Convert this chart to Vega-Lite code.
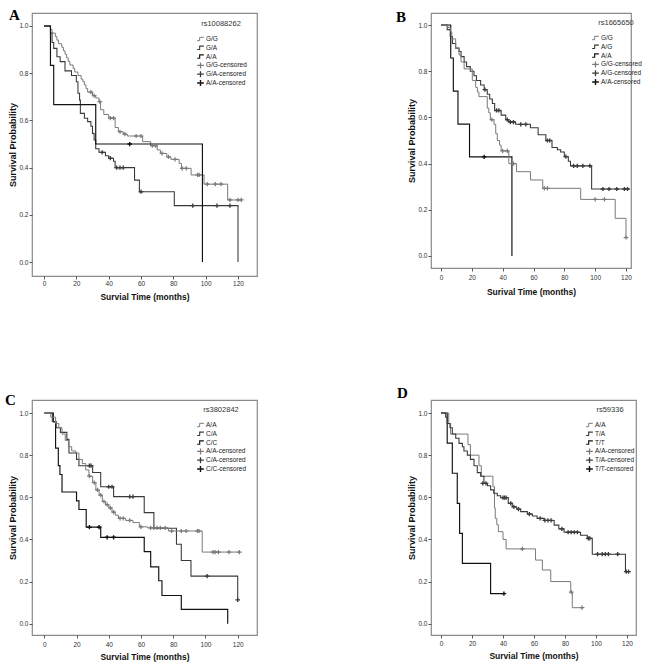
{
"$schema": "https://vega.github.io/schema/vega-lite/v6.json",
"background": "white",
"padding": {"left": 4, "top": 7, "right": 5, "bottom": 5},
"columns": 2,
"spacing": {"row": 124, "column": 174},
"bounds": "flush",
"resolve": {"scale": {"color": "independent", "strokeWidth": "independent", "shape": "independent"}, "legend": {"color": "independent", "strokeWidth": "independent", "shape": "independent"}},
"datasets": {
"km": [
{"p":"A","k":"G/G","t":0,"s":1},{"p":"A","k":"G/G","t":4,"s":0.985},{"p":"A","k":"G/G","t":5,"s":0.97},{"p":"A","k":"G/G","t":7,"s":0.955},{"p":"A","k":"G/G","t":8,"s":0.94},{"p":"A","k":"G/G","t":9,"s":0.925},{"p":"A","k":"G/G","t":11,"s":0.91},{"p":"A","k":"G/G","t":12,"s":0.895},{"p":"A","k":"G/G","t":13,"s":0.88},{"p":"A","k":"G/G","t":14,"s":0.865},{"p":"A","k":"G/G","t":15,"s":0.85},{"p":"A","k":"G/G","t":16,"s":0.835},{"p":"A","k":"G/G","t":18,"s":0.82},{"p":"A","k":"G/G","t":19,"s":0.805},{"p":"A","k":"G/G","t":21,"s":0.79},{"p":"A","k":"G/G","t":23,"s":0.775},{"p":"A","k":"G/G","t":24,"s":0.765},{"p":"A","k":"G/G","t":25,"s":0.75},{"p":"A","k":"G/G","t":26,"s":0.735},{"p":"A","k":"G/G","t":27,"s":0.72},{"p":"A","k":"G/G","t":30,"s":0.705},{"p":"A","k":"G/G","t":32,"s":0.695},{"p":"A","k":"G/G","t":34,"s":0.68},{"p":"A","k":"G/G","t":35,"s":0.645},{"p":"A","k":"G/G","t":37,"s":0.625},{"p":"A","k":"G/G","t":40,"s":0.61},{"p":"A","k":"G/G","t":44,"s":0.57},{"p":"A","k":"G/G","t":46,"s":0.552},{"p":"A","k":"G/G","t":49,"s":0.542},{"p":"A","k":"G/G","t":51.5,"s":0.534},{"p":"A","k":"G/G","t":61,"s":0.51},{"p":"A","k":"G/G","t":66,"s":0.493},{"p":"A","k":"G/G","t":70,"s":0.475},{"p":"A","k":"G/G","t":72,"s":0.46},{"p":"A","k":"G/G","t":76,"s":0.446},{"p":"A","k":"G/G","t":78.5,"s":0.435},{"p":"A","k":"G/G","t":83.6,"s":0.418},{"p":"A","k":"G/G","t":85,"s":0.397},{"p":"A","k":"G/G","t":91,"s":0.369},{"p":"A","k":"G/G","t":99,"s":0.33},{"p":"A","k":"G/G","t":113.6,"s":0.263},{"p":"A","k":"G/G","t":122,"s":0.263},
{"p":"A","k":"G/A","t":0,"s":1},{"p":"A","k":"G/A","t":4,"s":0.97},{"p":"A","k":"G/A","t":5,"s":0.93},{"p":"A","k":"G/A","t":6,"s":0.905},{"p":"A","k":"G/A","t":8,"s":0.87},{"p":"A","k":"G/A","t":10,"s":0.849},{"p":"A","k":"G/A","t":13,"s":0.81},{"p":"A","k":"G/A","t":17,"s":0.79},{"p":"A","k":"G/A","t":20,"s":0.764},{"p":"A","k":"G/A","t":21,"s":0.715},{"p":"A","k":"G/A","t":22,"s":0.686},{"p":"A","k":"G/A","t":22.5,"s":0.63},{"p":"A","k":"G/A","t":25,"s":0.609},{"p":"A","k":"G/A","t":27,"s":0.595},{"p":"A","k":"G/A","t":29,"s":0.575},{"p":"A","k":"G/A","t":30,"s":0.545},{"p":"A","k":"G/A","t":31,"s":0.517},{"p":"A","k":"G/A","t":32,"s":0.48},{"p":"A","k":"G/A","t":34,"s":0.465},{"p":"A","k":"G/A","t":38,"s":0.45},{"p":"A","k":"G/A","t":40,"s":0.44},{"p":"A","k":"G/A","t":43,"s":0.427},{"p":"A","k":"G/A","t":44,"s":0.4},{"p":"A","k":"G/A","t":56,"s":0.347},{"p":"A","k":"G/A","t":59,"s":0.298},{"p":"A","k":"G/A","t":80.6,"s":0.239},{"p":"A","k":"G/A","t":120,"s":0},
{"p":"A","k":"A/A","t":0,"s":1},{"p":"A","k":"A/A","t":4,"s":0.833},{"p":"A","k":"A/A","t":6,"s":0.667},{"p":"A","k":"A/A","t":32,"s":0.5},{"p":"A","k":"A/A","t":98,"s":0},
{"p":"B","k":"A/A","t":0,"s":1},{"p":"B","k":"A/A","t":6.3,"s":0.857},{"p":"B","k":"A/A","t":8,"s":0.714},{"p":"B","k":"A/A","t":11,"s":0.571},{"p":"B","k":"A/A","t":18.5,"s":0.429},{"p":"B","k":"A/A","t":46,"s":0},
{"p":"B","k":"A/G","t":0,"s":1},{"p":"B","k":"A/G","t":4,"s":0.98},{"p":"B","k":"A/G","t":6,"s":0.95},{"p":"B","k":"A/G","t":7.4,"s":0.92},{"p":"B","k":"A/G","t":9.5,"s":0.9},{"p":"B","k":"A/G","t":11.7,"s":0.885},{"p":"B","k":"A/G","t":13,"s":0.863},{"p":"B","k":"A/G","t":15,"s":0.84},{"p":"B","k":"A/G","t":16.6,"s":0.82},{"p":"B","k":"A/G","t":19,"s":0.8},{"p":"B","k":"A/G","t":21.4,"s":0.78},{"p":"B","k":"A/G","t":23,"s":0.76},{"p":"B","k":"A/G","t":25.7,"s":0.74},{"p":"B","k":"A/G","t":28,"s":0.72},{"p":"B","k":"A/G","t":30,"s":0.7},{"p":"B","k":"A/G","t":31.6,"s":0.68},{"p":"B","k":"A/G","t":33.3,"s":0.66},{"p":"B","k":"A/G","t":34.8,"s":0.63},{"p":"B","k":"A/G","t":39,"s":0.61},{"p":"B","k":"A/G","t":42,"s":0.59},{"p":"B","k":"A/G","t":44,"s":0.58},{"p":"B","k":"A/G","t":48.4,"s":0.57},{"p":"B","k":"A/G","t":58,"s":0.555},{"p":"B","k":"A/G","t":63,"s":0.525},{"p":"B","k":"A/G","t":68,"s":0.5},{"p":"B","k":"A/G","t":72,"s":0.47},{"p":"B","k":"A/G","t":75.5,"s":0.46},{"p":"B","k":"A/G","t":77.6,"s":0.45},{"p":"B","k":"A/G","t":80,"s":0.43},{"p":"B","k":"A/G","t":82.6,"s":0.41},{"p":"B","k":"A/G","t":84,"s":0.39},{"p":"B","k":"A/G","t":97.7,"s":0.29},{"p":"B","k":"A/G","t":122,"s":0.29},
{"p":"B","k":"G/G","t":0,"s":1},{"p":"B","k":"G/G","t":4.5,"s":0.99},{"p":"B","k":"G/G","t":6,"s":0.97},{"p":"B","k":"G/G","t":7,"s":0.94},{"p":"B","k":"G/G","t":9.5,"s":0.9},{"p":"B","k":"G/G","t":11.7,"s":0.87},{"p":"B","k":"G/G","t":13,"s":0.84},{"p":"B","k":"G/G","t":15,"s":0.81},{"p":"B","k":"G/G","t":20.3,"s":0.76},{"p":"B","k":"G/G","t":22.5,"s":0.73},{"p":"B","k":"G/G","t":23.6,"s":0.71},{"p":"B","k":"G/G","t":24.6,"s":0.69},{"p":"B","k":"G/G","t":30,"s":0.64},{"p":"B","k":"G/G","t":31,"s":0.62},{"p":"B","k":"G/G","t":32,"s":0.59},{"p":"B","k":"G/G","t":34.4,"s":0.57},{"p":"B","k":"G/G","t":35.5,"s":0.53},{"p":"B","k":"G/G","t":36.5,"s":0.5},{"p":"B","k":"G/G","t":38,"s":0.48},{"p":"B","k":"G/G","t":39,"s":0.455},{"p":"B","k":"G/G","t":44,"s":0.4},{"p":"B","k":"G/G","t":49,"s":0.365},{"p":"B","k":"G/G","t":58,"s":0.329},{"p":"B","k":"G/G","t":66,"s":0.293},{"p":"B","k":"G/G","t":90.6,"s":0.245},{"p":"B","k":"G/G","t":113,"s":0.163},{"p":"B","k":"G/G","t":120,"s":0.08},
{"p":"C","k":"C/C","t":0,"s":1},{"p":"C","k":"C/C","t":5.6,"s":0.958},{"p":"C","k":"C/C","t":7,"s":0.833},{"p":"C","k":"C/C","t":8.7,"s":0.75},{"p":"C","k":"C/C","t":9.7,"s":0.708},{"p":"C","k":"C/C","t":11,"s":0.625},{"p":"C","k":"C/C","t":20,"s":0.583},{"p":"C","k":"C/C","t":21.5,"s":0.542},{"p":"C","k":"C/C","t":26,"s":0.458},{"p":"C","k":"C/C","t":35,"s":0.41},{"p":"C","k":"C/C","t":62,"s":0.342},{"p":"C","k":"C/C","t":66,"s":0.27},{"p":"C","k":"C/C","t":71,"s":0.204},{"p":"C","k":"C/C","t":73,"s":0.134},{"p":"C","k":"C/C","t":85,"s":0.068},{"p":"C","k":"C/C","t":113.8,"s":0},
{"p":"C","k":"C/A","t":0,"s":1},{"p":"C","k":"C/A","t":5,"s":0.96},{"p":"C","k":"C/A","t":7.4,"s":0.93},{"p":"C","k":"C/A","t":10,"s":0.908},{"p":"C","k":"C/A","t":14,"s":0.875},{"p":"C","k":"C/A","t":15.3,"s":0.81},{"p":"C","k":"C/A","t":20,"s":0.78},{"p":"C","k":"C/A","t":21.5,"s":0.75},{"p":"C","k":"C/A","t":30,"s":0.718},{"p":"C","k":"C/A","t":35,"s":0.65},{"p":"C","k":"C/A","t":43,"s":0.603},{"p":"C","k":"C/A","t":62,"s":0.527},{"p":"C","k":"C/A","t":68,"s":0.453},{"p":"C","k":"C/A","t":82,"s":0.377},{"p":"C","k":"C/A","t":85,"s":0.3},{"p":"C","k":"C/A","t":91,"s":0.226},{"p":"C","k":"C/A","t":120,"s":0.113},
{"p":"C","k":"A/A","t":0,"s":1},{"p":"C","k":"A/A","t":4,"s":0.98},{"p":"C","k":"A/A","t":7,"s":0.95},{"p":"C","k":"A/A","t":9,"s":0.93},{"p":"C","k":"A/A","t":11,"s":0.9},{"p":"C","k":"A/A","t":13,"s":0.87},{"p":"C","k":"A/A","t":15,"s":0.84},{"p":"C","k":"A/A","t":17,"s":0.82},{"p":"C","k":"A/A","t":19.5,"s":0.81},{"p":"C","k":"A/A","t":21.5,"s":0.78},{"p":"C","k":"A/A","t":23.6,"s":0.76},{"p":"C","k":"A/A","t":25.7,"s":0.73},{"p":"C","k":"A/A","t":27.7,"s":0.7},{"p":"C","k":"A/A","t":30,"s":0.67},{"p":"C","k":"A/A","t":32,"s":0.635},{"p":"C","k":"A/A","t":34,"s":0.61},{"p":"C","k":"A/A","t":36,"s":0.58},{"p":"C","k":"A/A","t":38,"s":0.565},{"p":"C","k":"A/A","t":40,"s":0.55},{"p":"C","k":"A/A","t":42,"s":0.53},{"p":"C","k":"A/A","t":44,"s":0.515},{"p":"C","k":"A/A","t":46,"s":0.5},{"p":"C","k":"A/A","t":50.5,"s":0.49},{"p":"C","k":"A/A","t":55,"s":0.48},{"p":"C","k":"A/A","t":59,"s":0.46},{"p":"C","k":"A/A","t":64,"s":0.455},{"p":"C","k":"A/A","t":77,"s":0.44},{"p":"C","k":"A/A","t":98,"s":0.34},{"p":"C","k":"A/A","t":121,"s":0.34},
{"p":"D","k":"T/T","t":0,"s":1},{"p":"D","k":"T/T","t":4,"s":0.857},{"p":"D","k":"T/T","t":7.3,"s":0.714},{"p":"D","k":"T/T","t":10.5,"s":0.571},{"p":"D","k":"T/T","t":12,"s":0.429},{"p":"D","k":"T/T","t":13.8,"s":0.286},{"p":"D","k":"T/T","t":32,"s":0.143},{"p":"D","k":"T/T","t":40.6,"s":0.143},
{"p":"D","k":"A/A","t":0,"s":1},{"p":"D","k":"A/A","t":5,"s":0.95},{"p":"D","k":"A/A","t":6.2,"s":0.9},{"p":"D","k":"A/A","t":17.4,"s":0.85},{"p":"D","k":"A/A","t":19,"s":0.8},{"p":"D","k":"A/A","t":24.5,"s":0.75},{"p":"D","k":"A/A","t":26,"s":0.7},{"p":"D","k":"A/A","t":33.5,"s":0.65},{"p":"D","k":"A/A","t":34.5,"s":0.55},{"p":"D","k":"A/A","t":35,"s":0.5},{"p":"D","k":"A/A","t":36,"s":0.47},{"p":"D","k":"A/A","t":37,"s":0.437},{"p":"D","k":"A/A","t":40,"s":0.4},{"p":"D","k":"A/A","t":42,"s":0.355},{"p":"D","k":"A/A","t":61,"s":0.302},{"p":"D","k":"A/A","t":65.4,"s":0.255},{"p":"D","k":"A/A","t":70.8,"s":0.2},{"p":"D","k":"A/A","t":83.7,"s":0.15},{"p":"D","k":"A/A","t":84.7,"s":0.076},{"p":"D","k":"A/A","t":91,"s":0.076},
{"p":"D","k":"T/A","t":0,"s":1},{"p":"D","k":"T/A","t":3,"s":0.98},{"p":"D","k":"T/A","t":4,"s":0.95},{"p":"D","k":"T/A","t":5.8,"s":0.93},{"p":"D","k":"T/A","t":7.3,"s":0.9},{"p":"D","k":"T/A","t":9.5,"s":0.88},{"p":"D","k":"T/A","t":11.6,"s":0.856},{"p":"D","k":"T/A","t":13.8,"s":0.84},{"p":"D","k":"T/A","t":14.8,"s":0.82},{"p":"D","k":"T/A","t":17,"s":0.8},{"p":"D","k":"T/A","t":19,"s":0.78},{"p":"D","k":"T/A","t":21.3,"s":0.75},{"p":"D","k":"T/A","t":23.4,"s":0.717},{"p":"D","k":"T/A","t":25.6,"s":0.7},{"p":"D","k":"T/A","t":27.7,"s":0.666},{"p":"D","k":"T/A","t":30,"s":0.655},{"p":"D","k":"T/A","t":32,"s":0.635},{"p":"D","k":"T/A","t":34,"s":0.619},{"p":"D","k":"T/A","t":36.3,"s":0.607},{"p":"D","k":"T/A","t":38.5,"s":0.598},{"p":"D","k":"T/A","t":43.4,"s":0.571},{"p":"D","k":"T/A","t":46,"s":0.555},{"p":"D","k":"T/A","t":48.8,"s":0.544},{"p":"D","k":"T/A","t":51.4,"s":0.532},{"p":"D","k":"T/A","t":55.7,"s":0.52},{"p":"D","k":"T/A","t":59,"s":0.511},{"p":"D","k":"T/A","t":62,"s":0.5},{"p":"D","k":"T/A","t":66.5,"s":0.49},{"p":"D","k":"T/A","t":73,"s":0.468},{"p":"D","k":"T/A","t":76,"s":0.45},{"p":"D","k":"T/A","t":79.4,"s":0.434},{"p":"D","k":"T/A","t":90,"s":0.42},{"p":"D","k":"T/A","t":94.4,"s":0.405},{"p":"D","k":"T/A","t":97.6,"s":0.33},{"p":"D","k":"T/A","t":119,"s":0.247},{"p":"D","k":"T/A","t":121,"s":0.247}
],
"cens": [
{"p":"A","k":"G/G-censored","t":29,"s":0.72},{"p":"A","k":"G/G-censored","t":31,"s":0.705},{"p":"A","k":"G/G-censored","t":34.5,"s":0.68},{"p":"A","k":"G/G-censored","t":41,"s":0.61},{"p":"A","k":"G/G-censored","t":43,"s":0.61},{"p":"A","k":"G/G-censored","t":47,"s":0.552},{"p":"A","k":"G/G-censored","t":50,"s":0.542},{"p":"A","k":"G/G-censored","t":57,"s":0.534},{"p":"A","k":"G/G-censored","t":60,"s":0.534},{"p":"A","k":"G/G-censored","t":67,"s":0.493},{"p":"A","k":"G/G-censored","t":69,"s":0.493},{"p":"A","k":"G/G-censored","t":73,"s":0.46},{"p":"A","k":"G/G-censored","t":77,"s":0.446},{"p":"A","k":"G/G-censored","t":81,"s":0.435},{"p":"A","k":"G/G-censored","t":85.5,"s":0.397},{"p":"A","k":"G/G-censored","t":88,"s":0.397},{"p":"A","k":"G/G-censored","t":95,"s":0.369},{"p":"A","k":"G/G-censored","t":96,"s":0.369},{"p":"A","k":"G/G-censored","t":101,"s":0.33},{"p":"A","k":"G/G-censored","t":106,"s":0.33},{"p":"A","k":"G/G-censored","t":109.5,"s":0.33},{"p":"A","k":"G/G-censored","t":115,"s":0.263},{"p":"A","k":"G/G-censored","t":120,"s":0.263},{"p":"A","k":"G/G-censored","t":122,"s":0.263},
{"p":"A","k":"G/A-censored","t":36,"s":0.465},{"p":"A","k":"G/A-censored","t":41,"s":0.44},{"p":"A","k":"G/A-censored","t":45,"s":0.4},{"p":"A","k":"G/A-censored","t":47,"s":0.4},{"p":"A","k":"G/A-censored","t":49,"s":0.4},{"p":"A","k":"G/A-censored","t":60,"s":0.298},{"p":"A","k":"G/A-censored","t":92,"s":0.239},{"p":"A","k":"G/A-censored","t":107,"s":0.239},{"p":"A","k":"G/A-censored","t":115,"s":0.239},
{"p":"A","k":"A/A-censored","t":53,"s":0.5},
{"p":"B","k":"G/G-censored","t":33,"s":0.59},{"p":"B","k":"G/G-censored","t":40,"s":0.455},{"p":"B","k":"G/G-censored","t":43,"s":0.455},{"p":"B","k":"G/G-censored","t":47,"s":0.4},{"p":"B","k":"G/G-censored","t":67,"s":0.293},{"p":"B","k":"G/G-censored","t":69,"s":0.293},{"p":"B","k":"G/G-censored","t":100,"s":0.245},{"p":"B","k":"G/G-censored","t":106,"s":0.245},{"p":"B","k":"G/G-censored","t":120,"s":0.08},
{"p":"B","k":"A/G-censored","t":28.5,"s":0.72},{"p":"B","k":"A/G-censored","t":36,"s":0.63},{"p":"B","k":"A/G-censored","t":37.5,"s":0.63},{"p":"B","k":"A/G-censored","t":43,"s":0.59},{"p":"B","k":"A/G-censored","t":45,"s":0.58},{"p":"B","k":"A/G-censored","t":47,"s":0.58},{"p":"B","k":"A/G-censored","t":51.7,"s":0.57},{"p":"B","k":"A/G-censored","t":55,"s":0.57},{"p":"B","k":"A/G-censored","t":69,"s":0.5},{"p":"B","k":"A/G-censored","t":70.5,"s":0.5},{"p":"B","k":"A/G-censored","t":81,"s":0.43},{"p":"B","k":"A/G-censored","t":86,"s":0.39},{"p":"B","k":"A/G-censored","t":88.4,"s":0.39},{"p":"B","k":"A/G-censored","t":92,"s":0.39},{"p":"B","k":"A/G-censored","t":96.6,"s":0.39},{"p":"B","k":"A/G-censored","t":105,"s":0.29},{"p":"B","k":"A/G-censored","t":109,"s":0.29},{"p":"B","k":"A/G-censored","t":114,"s":0.29},{"p":"B","k":"A/G-censored","t":119,"s":0.29},{"p":"B","k":"A/G-censored","t":121,"s":0.29},
{"p":"B","k":"A/A-censored","t":28,"s":0.429},
{"p":"C","k":"A/A-censored","t":28,"s":0.7},{"p":"C","k":"A/A-censored","t":31,"s":0.67},{"p":"C","k":"A/A-censored","t":33,"s":0.635},{"p":"C","k":"A/A-censored","t":35,"s":0.61},{"p":"C","k":"A/A-censored","t":37,"s":0.58},{"p":"C","k":"A/A-censored","t":39,"s":0.565},{"p":"C","k":"A/A-censored","t":41,"s":0.55},{"p":"C","k":"A/A-censored","t":43,"s":0.53},{"p":"C","k":"A/A-censored","t":47,"s":0.5},{"p":"C","k":"A/A-censored","t":49,"s":0.5},{"p":"C","k":"A/A-censored","t":53,"s":0.49},{"p":"C","k":"A/A-censored","t":60,"s":0.46},{"p":"C","k":"A/A-censored","t":66,"s":0.455},{"p":"C","k":"A/A-censored","t":68,"s":0.455},{"p":"C","k":"A/A-censored","t":70,"s":0.455},{"p":"C","k":"A/A-censored","t":72,"s":0.455},{"p":"C","k":"A/A-censored","t":75,"s":0.455},{"p":"C","k":"A/A-censored","t":79,"s":0.44},{"p":"C","k":"A/A-censored","t":85,"s":0.44},{"p":"C","k":"A/A-censored","t":88,"s":0.44},{"p":"C","k":"A/A-censored","t":95,"s":0.44},{"p":"C","k":"A/A-censored","t":96,"s":0.44},{"p":"C","k":"A/A-censored","t":104.7,"s":0.34},{"p":"C","k":"A/A-censored","t":106,"s":0.34},{"p":"C","k":"A/A-censored","t":108,"s":0.34},{"p":"C","k":"A/A-censored","t":114.6,"s":0.34},{"p":"C","k":"A/A-censored","t":121,"s":0.34},
{"p":"C","k":"C/A-censored","t":28,"s":0.75},{"p":"C","k":"C/A-censored","t":29,"s":0.75},{"p":"C","k":"C/A-censored","t":40,"s":0.65},{"p":"C","k":"C/A-censored","t":42,"s":0.65},{"p":"C","k":"C/A-censored","t":53,"s":0.603},{"p":"C","k":"C/A-censored","t":55,"s":0.603},{"p":"C","k":"C/A-censored","t":101,"s":0.226},{"p":"C","k":"C/A-censored","t":120,"s":0.113},
{"p":"C","k":"C/C-censored","t":28,"s":0.458},{"p":"C","k":"C/C-censored","t":34,"s":0.458},{"p":"C","k":"C/C-censored","t":39,"s":0.41},{"p":"C","k":"C/C-censored","t":43,"s":0.41},
{"p":"D","k":"A/A-censored","t":52.5,"s":0.355},{"p":"D","k":"A/A-censored","t":84,"s":0.15},{"p":"D","k":"A/A-censored","t":91,"s":0.076},
{"p":"D","k":"T/A-censored","t":27,"s":0.666},{"p":"D","k":"T/A-censored","t":29,"s":0.666},{"p":"D","k":"T/A-censored","t":40,"s":0.598},{"p":"D","k":"T/A-censored","t":41,"s":0.598},{"p":"D","k":"T/A-censored","t":42,"s":0.598},{"p":"D","k":"T/A-censored","t":45,"s":0.571},{"p":"D","k":"T/A-censored","t":47,"s":0.555},{"p":"D","k":"T/A-censored","t":50,"s":0.544},{"p":"D","k":"T/A-censored","t":57,"s":0.52},{"p":"D","k":"T/A-censored","t":64,"s":0.5},{"p":"D","k":"T/A-censored","t":67,"s":0.49},{"p":"D","k":"T/A-censored","t":69,"s":0.49},{"p":"D","k":"T/A-censored","t":71,"s":0.49},{"p":"D","k":"T/A-censored","t":78,"s":0.45},{"p":"D","k":"T/A-censored","t":82,"s":0.434},{"p":"D","k":"T/A-censored","t":84,"s":0.434},{"p":"D","k":"T/A-censored","t":86,"s":0.434},{"p":"D","k":"T/A-censored","t":88,"s":0.434},{"p":"D","k":"T/A-censored","t":95,"s":0.405},{"p":"D","k":"T/A-censored","t":96,"s":0.405},{"p":"D","k":"T/A-censored","t":101,"s":0.33},{"p":"D","k":"T/A-censored","t":104,"s":0.33},{"p":"D","k":"T/A-censored","t":106,"s":0.33},{"p":"D","k":"T/A-censored","t":108,"s":0.33},{"p":"D","k":"T/A-censored","t":114,"s":0.33},{"p":"D","k":"T/A-censored","t":119.5,"s":0.247},{"p":"D","k":"T/A-censored","t":121,"s":0.247},
{"p":"D","k":"T/T-censored","t":40.6,"s":0.143}
]
},
"concat": [
{
"width": 225, "height": 263,
"title": {"text": "A", "dx": -23, "dy": 14},
"encoding": {
"x": {"field": "t", "type": "quantitative", "scale": {"domain": [-7.42, 131.75], "nice": false, "zero": false}, "axis": {"title": "Survial Time (months)", "values": [0,20,40,60,80,100,120], "labelPadding": 1, "titlePadding": 6}},
"y": {"field": "s", "type": "quantitative", "scale": {"domain": [-0.059, 1.055], "nice": false, "zero": false}, "axis": {"title": "Survival Probability", "values": [0,0.2,0.4,0.6,0.8,1], "format": ".1f"}},
"color": {"field": "k", "type": "nominal", "scale": {"domain": ["G/G","G/A","A/A","G/G-censored","G/A-censored","A/A-censored"], "range": ["#7a7a7a","#3a3a3a","#111111","#7a7a7a","#3a3a3a","#111111"]}, "legend": {"title": "rs10088262", "orient": "none", "legendX": 164, "legendY": 7}},
"strokeWidth": {"field": "k", "type": "nominal", "scale": {"domain": ["G/G","G/A","A/A","G/G-censored","G/A-censored","A/A-censored"], "range": [1,1.4,2,1,1.4,2]}, "legend": null}
},
"layer": [
{"data": {"name": "km"}, "transform": [{"filter": "datum.p === 'A'"}], "mark": {"type": "line", "interpolate": "step-after"}},
{"data": {"name": "cens"}, "transform": [{"filter": "datum.p === 'A'"}], "mark": {"type": "point", "filled": false, "opacity": 1, "size": 22},
 "encoding": {
  "shape": {"field": "k", "type": "nominal", "scale": {"domain": ["G/G","G/A","A/A","G/G-censored","G/A-censored","A/A-censored"], "range": ["M-1,0.5H-0.25V-0.5H1","M-1,0.5H-0.25V-0.5H1","M-1,0.5H-0.25V-0.5H1","M-1,0H0V-0.9V0.9V0H1","M-1,0H0V-0.9V0.9V0H1","M-1,0H0V-0.9V0.9V0H1"]}}
 }}
]
},
{
"width": 200, "height": 255,
"title": {"text": "B", "dx": -35, "dy": 16},
"encoding": {
"x": {"field": "t", "type": "quantitative", "scale": {"domain": [-6.49, 123.24], "nice": false, "zero": false}, "axis": {"title": "Surival Time (months)", "values": [0,20,40,60,80,100,120], "labelPadding": 3, "titlePadding": 7}},
"y": {"field": "s", "type": "quantitative", "scale": {"domain": [-0.052, 1.052], "nice": false, "zero": false}, "axis": {"title": "Survival Probability", "values": [0,0.2,0.4,0.6,0.8,1], "format": ".1f"}},
"color": {"field": "k", "type": "nominal", "scale": {"domain": ["G/G","A/G","A/A","G/G-censored","A/G-censored","A/A-censored"], "range": ["#7a7a7a","#3a3a3a","#111111","#7a7a7a","#3a3a3a","#111111"]}, "legend": {"title": "rs1665650", "orient": "none", "legendX": 160, "legendY": 6}},
"strokeWidth": {"field": "k", "type": "nominal", "scale": {"domain": ["G/G","A/G","A/A","G/G-censored","A/G-censored","A/A-censored"], "range": [1,1.4,2,1,1.4,2]}, "legend": null}
},
"layer": [
{"data": {"name": "km"}, "transform": [{"filter": "datum.p === 'B'"}], "mark": {"type": "line", "interpolate": "step-after"}},
{"data": {"name": "cens"}, "transform": [{"filter": "datum.p === 'B'"}], "mark": {"type": "point", "filled": false, "opacity": 1, "size": 22},
 "encoding": {
  "shape": {"field": "k", "type": "nominal", "scale": {"domain": ["G/G","A/G","A/A","G/G-censored","A/G-censored","A/A-censored"], "range": ["M-1,0.5H-0.25V-0.5H1","M-1,0.5H-0.25V-0.5H1","M-1,0.5H-0.25V-0.5H1","M-1,0H0V-0.9V0.9V0H1","M-1,0H0V-0.9V0.9V0H1","M-1,0H0V-0.9V0.9V0H1"]}}
 }}
]
},
{
"width": 225, "height": 235,
"title": {"text": "C", "dx": -27, "dy": 12},
"encoding": {
"x": {"field": "t", "type": "quantitative", "scale": {"domain": [-7.63, 131.97], "nice": false, "zero": false}, "axis": {"title": "Survial Time (months)", "values": [0,20,40,60,80,100,120], "labelPadding": 3, "titlePadding": 5}},
"y": {"field": "s", "type": "quantitative", "scale": {"domain": [-0.0536, 1.0617], "nice": false, "zero": false}, "axis": {"title": "Survival Probability", "values": [0,0.2,0.4,0.6,0.8,1], "format": ".1f"}},
"color": {"field": "k", "type": "nominal", "scale": {"domain": ["A/A","C/A","C/C","A/A-censored","C/A-censored","C/C-censored"], "range": ["#7a7a7a","#3a3a3a","#111111","#7a7a7a","#3a3a3a","#111111"]}, "legend": {"title": "rs3802842", "orient": "none", "legendX": 164, "legendY": 6}},
"strokeWidth": {"field": "k", "type": "nominal", "scale": {"domain": ["A/A","C/A","C/C","A/A-censored","C/A-censored","C/C-censored"], "range": [1,1.4,2,1,1.4,2]}, "legend": null}
},
"layer": [
{"data": {"name": "km"}, "transform": [{"filter": "datum.p === 'C'"}], "mark": {"type": "line", "interpolate": "step-after"}},
{"data": {"name": "cens"}, "transform": [{"filter": "datum.p === 'C'"}], "mark": {"type": "point", "filled": false, "opacity": 1, "size": 22},
 "encoding": {
  "shape": {"field": "k", "type": "nominal", "scale": {"domain": ["A/A","C/A","C/C","A/A-censored","C/A-censored","C/C-censored"], "range": ["M-1,0.5H-0.25V-0.5H1","M-1,0.5H-0.25V-0.5H1","M-1,0.5H-0.25V-0.5H1","M-1,0H0V-0.9V0.9V0H1","M-1,0H0V-0.9V0.9V0H1","M-1,0H0V-0.9V0.9V0H1"]}}
 }}
]
},
{
"width": 205, "height": 235,
"title": {"text": "D", "dx": -34, "dy": 5},
"encoding": {
"x": {"field": "t", "type": "quantitative", "scale": {"domain": [-6.45, 125.8], "nice": false, "zero": false}, "axis": {"title": "Survial Time (months)", "values": [0,20,40,60,80,100,120], "labelPadding": 2, "titlePadding": 5}},
"y": {"field": "s", "type": "quantitative", "scale": {"domain": [-0.0536, 1.0617], "nice": false, "zero": false}, "axis": {"title": "Survival Probability", "values": [0,0.2,0.4,0.6,0.8,1], "format": ".1f"}},
"color": {"field": "k", "type": "nominal", "scale": {"domain": ["A/A","T/A","T/T","A/A-censored","T/A-censored","T/T-censored"], "range": ["#7a7a7a","#3a3a3a","#111111","#7a7a7a","#3a3a3a","#111111"]}, "legend": {"title": "rs59336", "orient": "none", "legendX": 154, "legendY": 6}},
"strokeWidth": {"field": "k", "type": "nominal", "scale": {"domain": ["A/A","T/A","T/T","A/A-censored","T/A-censored","T/T-censored"], "range": [1,1.4,2,1,1.4,2]}, "legend": null}
},
"layer": [
{"data": {"name": "km"}, "transform": [{"filter": "datum.p === 'D'"}], "mark": {"type": "line", "interpolate": "step-after"}},
{"data": {"name": "cens"}, "transform": [{"filter": "datum.p === 'D'"}], "mark": {"type": "point", "filled": false, "opacity": 1, "size": 22},
 "encoding": {
  "shape": {"field": "k", "type": "nominal", "scale": {"domain": ["A/A","T/A","T/T","A/A-censored","T/A-censored","T/T-censored"], "range": ["M-1,0.5H-0.25V-0.5H1","M-1,0.5H-0.25V-0.5H1","M-1,0.5H-0.25V-0.5H1","M-1,0H0V-0.9V0.9V0H1","M-1,0H0V-0.9V0.9V0H1","M-1,0H0V-0.9V0.9V0H1"]}}
 }}
]
}
],
"config": {
"view": {"stroke": "#8a8a8a", "strokeWidth": 1.2},
"axis": {"domain": false, "grid": false, "tickSize": 3, "tickColor": "#555555", "labelFont": "Liberation Sans", "labelFontSize": 6.5, "labelColor": "#333333", "labelPadding": 1, "titleFont": "Liberation Sans", "titleFontWeight": "bold", "titleColor": "#111111"},
"axisX": {"titleFontSize": 8.5, "titlePadding": 6},
"axisY": {"titleFontSize": 9, "titlePadding": 1},
"legend": {"titleFont": "Liberation Sans", "titleFontSize": 7.5, "titleFontWeight": "normal", "titleColor": "#333333", "labelFont": "Liberation Sans", "labelFontSize": 6.5, "labelColor": "#222222", "rowPadding": 1.8, "labelOffset": 1, "titlePadding": 8, "padding": 0, "titleAnchor": "middle", "symbolSize": 45, "symbolStrokeWidth": 1.6, "clipHeight": 7},
"title": {"anchor": "start", "frame": "group", "font": "Liberation Serif", "fontSize": 15, "fontWeight": "bold", "color": "#000000", "offset": 0, "baseline": "alphabetic"}
}
}
